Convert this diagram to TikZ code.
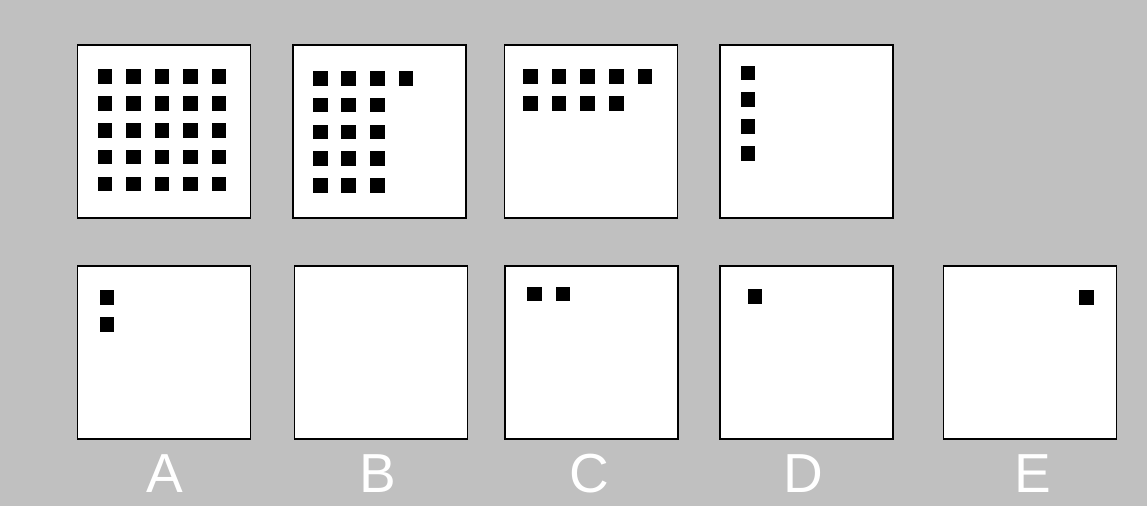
\documentclass[tikz,border=0pt]{standalone}
\usepackage{fontspec}
\setmainfont{Liberation Sans}
\definecolor{bg}{HTML}{C0C0C0}
\begin{document}
\begin{tikzpicture}[x=1pt,y=-1pt,
  panel/.style={draw=black,line width=1.6pt,fill=white,minimum width=173pt,minimum height=173pt,inner sep=0pt,outer sep=0pt},
  dot/.style={fill=black,minimum size=14.5pt,inner sep=0pt,outer sep=0pt},
  letter/.style={text=white,font=\fontsize{55}{60}\selectfont,inner sep=0pt}]
\fill[bg] (0,0) rectangle (1147,506);
\useasboundingbox (0,0) rectangle (1147,506);
% top row
\node[panel] (p1) at (164,131.5) {};
\node[panel] (p2) at (379.2,131.5) {};
\node[panel] (p3) at (590.8,131.5) {};
\node[panel] (p4) at (806.7,131.5) {};
% bottom row
\node[panel] (qa) at (164,352.7) {};
\node[panel] (qb) at (381,352.7) {};
\node[panel] (qc) at (591.2,352.7) {};
\node[panel] (qd) at (806.7,352.7) {};
\node[panel] (qe) at (1029.8,352.7) {};
% squares panel 1
\foreach \x in {105,133.5,162.2,190.5,219.2}
  \foreach \y in {76.7,103.5,130.5,157.2,183.8}
    \node[dot] at (\x,\y) {};
% panel 2
\foreach \x in {320.7,348.7,377.3,406}
  \node[dot] at (\x,78.3) {};
\foreach \x in {320.7,348.7,377.3}
  \foreach \y in {105,132,158.7,185.3}
    \node[dot] at (\x,\y) {};
% panel 3
\foreach \x in {530.7,559,587.7,616.3,645}
  \node[dot] at (\x,76.7) {};
\foreach \x in {530.7,559,587.7,616.3}
  \node[dot] at (\x,103.3) {};
% panel 4
\foreach \y in {73,99.7,126.7,153.3}
  \node[dot] at (748,\y) {};
% A
\node[dot] at (107,297.7) {};
\node[dot] at (107,324.3) {};
% C
\node[dot] at (534.4,294) {};
\node[dot] at (562.9,294) {};
% D
\node[dot] at (755.2,296.3) {};
% E
\node[dot] at (1086.6,297.7) {};
% labels
\node[letter] (la) at (165,473.5) {A};
\node[letter] (lb) at (378.3,473.5) {B};
\node[letter] (lc) at (589,473.5) {C};
\node[letter] (ld) at (803.4,473.5) {D};
\node[letter] (le) at (1032.5,473.5) {E};
\end{tikzpicture}
\end{document}
